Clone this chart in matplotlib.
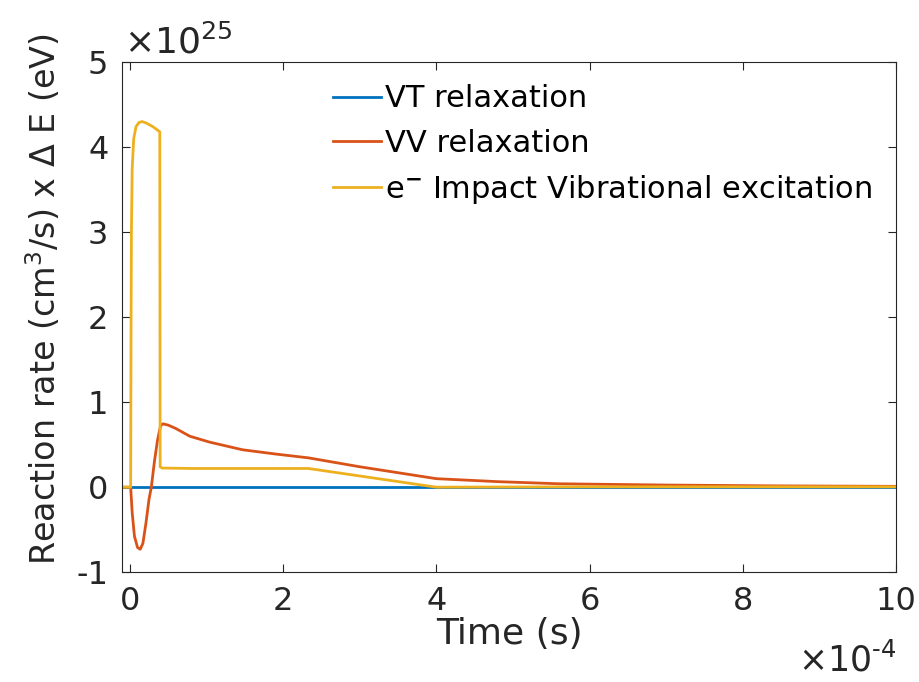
import numpy as np
import matplotlib
matplotlib.use('Agg')
import matplotlib.pyplot as plt
from matplotlib.ticker import ScalarFormatter

plt.rcParams['font.family'] = ['DejaVu Sans']
plt.rcParams['mathtext.fontset'] = 'dejavusans'
plt.rcParams['mathtext.default'] = 'regular'
plt.rcParams['axes.unicode_minus'] = False

# time in units of 1e-4 s, rates in units of 1e25
t_vt = [-0.1, 10.0]
vt = [0.0, 0.0]

t_vv = [-0.1, 0.01, 0.03, 0.06, 0.10, 0.135, 0.17, 0.21, 0.25, 0.28, 0.32, 0.36,
        0.40, 0.43, 0.50, 0.60, 0.78, 1.04, 1.47, 1.90, 2.33, 3.00, 4.00, 4.80,
        5.60, 7.00, 8.50, 10.0]
vv = [0.0, 0.0, -0.30, -0.58, -0.71, -0.73, -0.66, -0.42, -0.14, 0.0, 0.30, 0.55,
      0.72, 0.745, 0.73, 0.69, 0.60, 0.53, 0.44, 0.39, 0.345, 0.24, 0.10, 0.065,
      0.04, 0.025, 0.015, 0.01]

t_ev = [-0.1, 0.01, 0.015, 0.02, 0.03, 0.05, 0.08, 0.12, 0.16, 0.22, 0.30, 0.39,
        0.395, 0.42, 0.80, 2.33, 4.00, 6.00, 8.00, 10.0]
ev = [0.0, 0.0, 1.8, 3.0, 3.75, 4.10, 4.24, 4.29, 4.30, 4.28, 4.24, 4.18,
      0.24, 0.225, 0.22, 0.22, 0.0, 0.004, 0.004, 0.004]

labels = ['VT relaxation', 'VV relaxation', r'e$^{\mathbf{-}}$ Impact Vibrational excitation']
colors = ['#0072BD', '#D95319', '#EDB120']
txt = '#262626'

fig = plt.figure(figsize=(9.19, 6.82), dpi=100)
ax = fig.add_axes([0.133, 0.161, 0.842, 0.748])

ax.plot(np.array(t_vt) * 1e-4, np.array(vt) * 1e25, color=colors[0], lw=2.0, label=labels[0])
ax.plot(np.array(t_vv) * 1e-4, np.array(vv) * 1e25, color=colors[1], lw=2.0, label=labels[1])
ax.plot(np.array(t_ev) * 1e-4, np.array(ev) * 1e25, color=colors[2], lw=2.0, label=labels[2])

ax.set_xlim(-0.1e-4, 10e-4)
ax.set_ylim(-1e25, 5e25)
ax.set_xticks(np.arange(0, 11, 2) * 1e-4)
ax.set_yticks(np.arange(-1, 6, 1) * 1e25)

# fixed exponents like MATLAB, multiplier drawn by hand below
for axis, p in ((ax.xaxis, -4), (ax.yaxis, 25)):
    fmt = ScalarFormatter()
    fmt.set_powerlimits((p, p))
    axis.set_major_formatter(fmt)
    axis.get_offset_text().set_visible(False)

ax.tick_params(direction='in', top=True, right=True, length=6, width=0.8,
               labelsize=23, colors=txt, pad=10)
for s in ax.spines.values():
    s.set_color(txt)
    s.set_linewidth(0.8)

ax.text(0.002, 1.004, '×10$^{25}$', transform=ax.transAxes, fontsize=26, color=txt,
        ha='left', va='bottom')
fig.text(0.975, 0.016, '×10$^{\u20104}$', fontsize=25, color=txt, ha='right', va='baseline')

ax.set_xlabel('Time (s)', fontsize=26, color=txt, labelpad=0)
ax.set_ylabel('Reaction rate (cm$^3$/s) x Δ E (eV)', fontsize=24, color=txt)
ax.yaxis.set_label_coords(-0.076, 0.535)

ax.legend(loc='upper left', bbox_to_anchor=(0.257, 0.98), frameon=False, fontsize=22,
          handlelength=1.55, handletextpad=0.15, labelspacing=0.5, borderaxespad=0)

fig.savefig('out.png', dpi=100)
